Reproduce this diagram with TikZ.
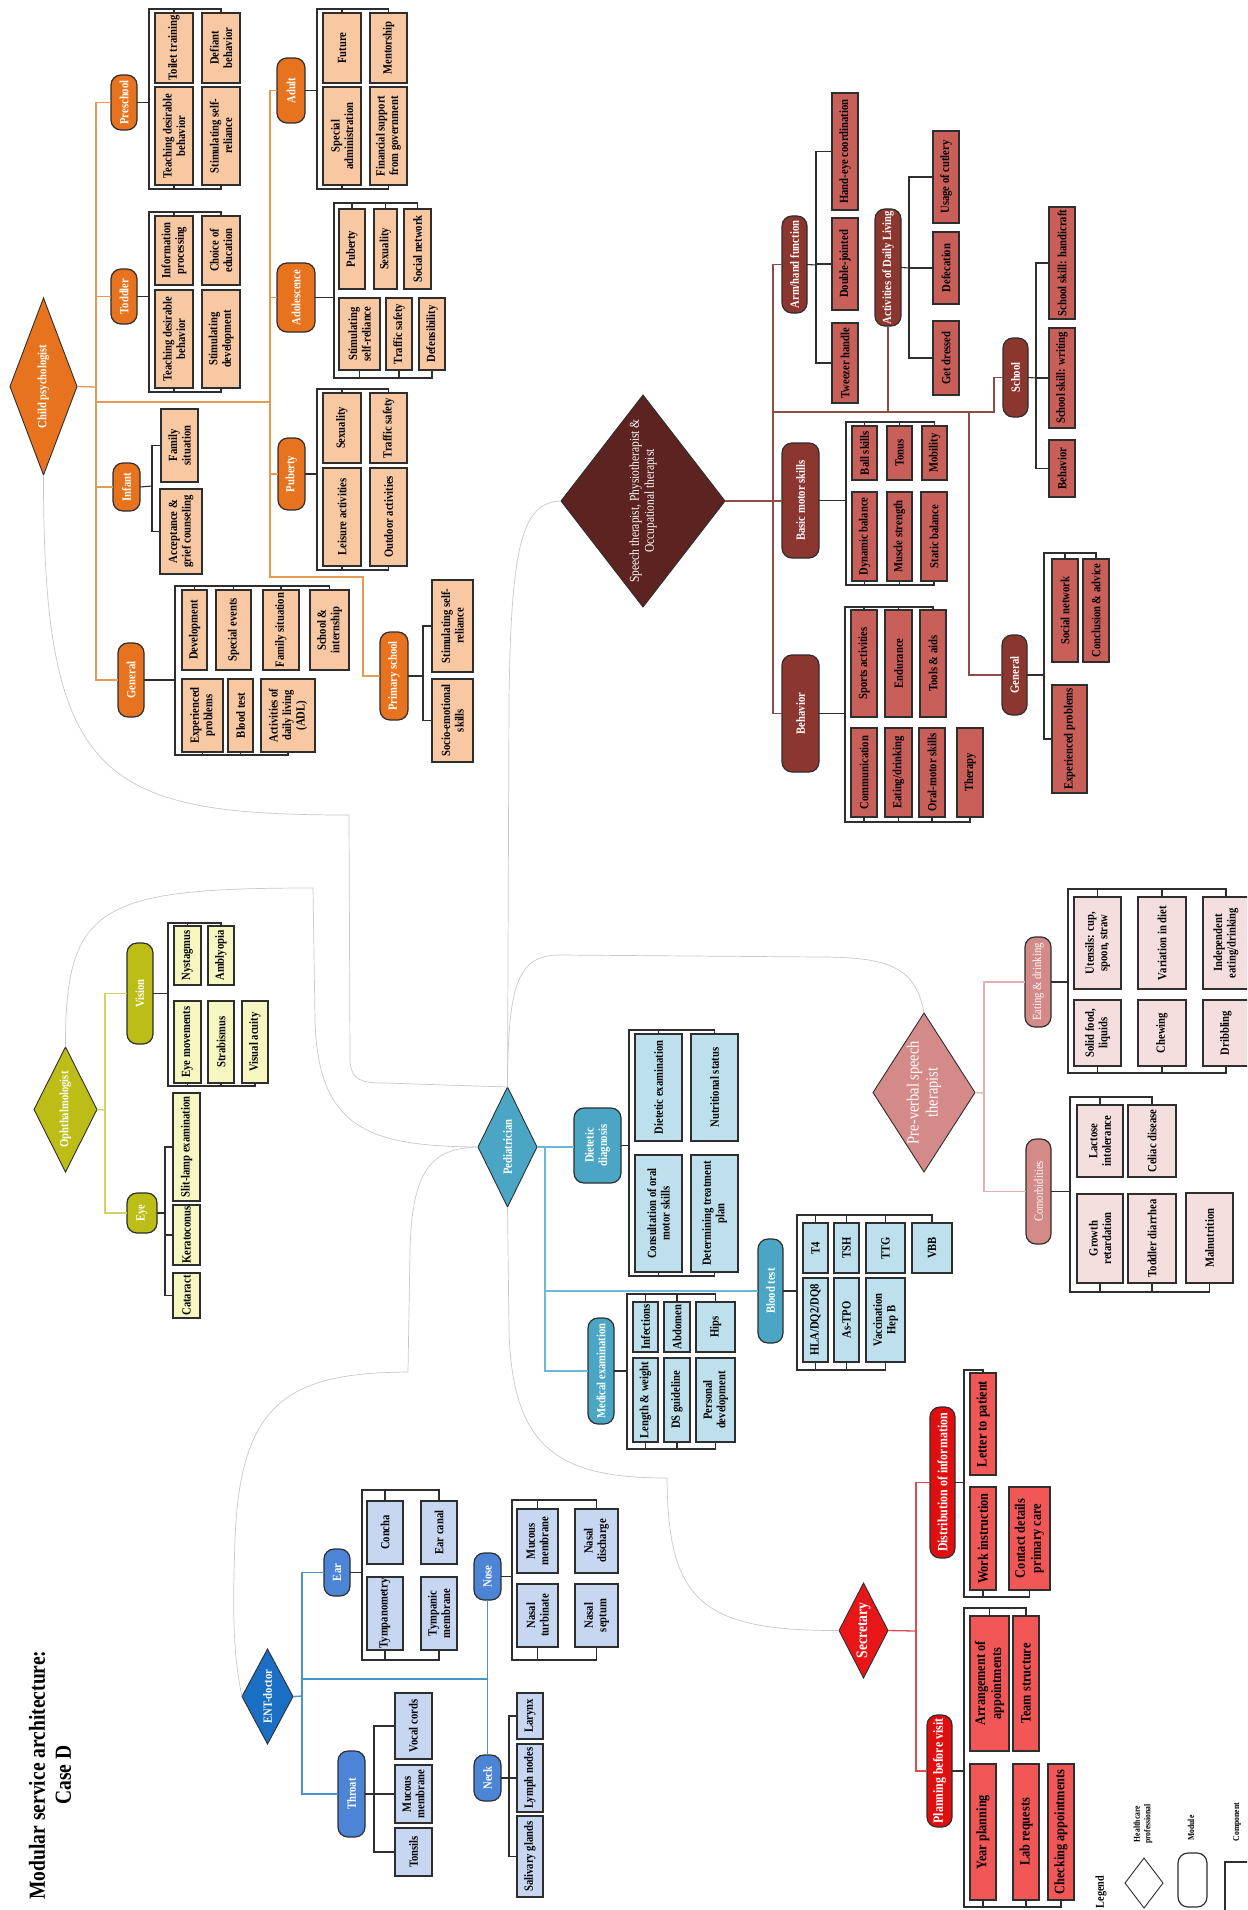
\documentclass[tikz,border=0pt]{standalone}
\usepackage{fontspec}
\setmainfont{Liberation Serif}[FakeStretch=0.85]
\usetikzlibrary{shapes.geometric}
\definecolor{edge}{HTML}{2E2E2E}
\definecolor{linkgray}{HTML}{C9C9C9}
\definecolor{cpMain}{HTML}{E8731E}
\definecolor{cpLight}{HTML}{F8C8A2}
\definecolor{cpLine}{HTML}{E39A55}
\definecolor{stDark}{HTML}{5C2320}
\definecolor{stMain}{HTML}{8C3630}
\definecolor{stLight}{HTML}{C95F59}
\definecolor{stLine}{HTML}{8E4B48}
\definecolor{ophMain}{HTML}{BDBD17}
\definecolor{ophLight}{HTML}{F6F6C0}
\definecolor{ophLine}{HTML}{D2D26A}
\definecolor{pedMain}{HTML}{4AA6C4}
\definecolor{pedLight}{HTML}{BDE0EC}
\definecolor{pedLine}{HTML}{6DB8D5}
\definecolor{pvMain}{HTML}{D48A88}
\definecolor{pvLight}{HTML}{F4DEDE}
\definecolor{pvLine}{HTML}{E6B0B0}
\definecolor{entDia}{HTML}{1A6EC4}
\definecolor{entMain}{HTML}{4C84D6}
\definecolor{entLight}{HTML}{C7D7F2}
\definecolor{entLine}{HTML}{4A93C9}
\definecolor{secDia}{HTML}{E81616}
\definecolor{secMain}{HTML}{E00E0E}
\definecolor{secLight}{HTML}{F25757}
\definecolor{secLine}{HTML}{D94F4F}

\begin{document}
\begin{tikzpicture}[
    x=1pt, y=-1pt,
    cell/.style n args={4}{at={({(#1+#3)/2},{(#2+#4)/2})},
        minimum width={(#4)-(#2)}, minimum height={(#3)-(#1)}},
    comp/.style={rectangle, draw=edge, line width=1.2pt, fill=#1, rotate=90,
        inner sep=1pt, outer sep=0pt, align=center,
        font=\bfseries\fontsize{12.5}{13.5}\selectfont},
    mod/.style={rectangle, rounded corners=10pt, draw=edge, line width=1.2pt, fill=#1,
        rotate=90, inner sep=1pt, outer sep=0pt, align=center, text=white,
        font=\bfseries\fontsize{12.5}{13.5}\selectfont},
    pro/.style={diamond, draw=edge, line width=0.9pt, fill=#1, rotate=90,
        inner sep=0pt, outer sep=0pt, align=center, text=white,
        font=\bfseries\fontsize{12.5}{14}\selectfont},
    brk/.style={draw=edge, line width=1.1pt},
    tie/.style={draw=#1, line width=1.3pt},
    link/.style={draw=linkgray, line width=0.7pt},
    note/.style={rotate=90, align=center, font=\bfseries\fontsize{9}{10.5}\selectfont},
]
\path[use as bounding box] (0,0) rectangle (1247,1910);
\clip (0,0) rectangle (1247,1910);
\fill[white] (0,0) rectangle (1247,1910);

\node[rotate=90, align=center, font=\bfseries\fontsize{23}{26}\selectfont] (title) at (50,1775)
    {Modular service architecture:\\Case D};

% ============================================================ child psychologist
\node[pro=cpMain, cell={10}{298}{77}{475}, aspect=2.6] (cp) {Child psychologist};
\foreach \nm/\xa/\ya/\xb/\yb/\txt in {cpPre/111/75/137/130/Preschool, cpTod/111/269/137/324/Toddler,
    cpInf/113/463/140/511/Infant, cpGen/118/643/144/717/General, cpAdu/277/58/305/123/Adult,
    cpAdo/277/263/315/332/Adolescence, cpPub/278/438/305/510/Puberty,
    cpPri/380/632/408/720/{Primary school}}
    \node[mod=cpMain, cell={\xa}{\ya}{\xb}{\yb}] (\nm) {\txt};
\foreach \nm/\xa/\ya/\xb/\yb/\txt in {
    ps1/155/87/193/185/{Teaching desirable\\behavior}, ps2/155/13/193/83/{Toilet training},
    ps3/202/87/240/185/{Stimulating self-\\reliance}, ps4/202/13/240/83/{Defiant\\behavior},
    td1/155/290/193/388/{Teaching desirable\\behavior}, td2/155/216/193/285/{Information\\processing},
    td3/202/290/240/388/{Stimulating\\development}, td4/202/216/240/285/{Choice of\\education},
    if1/161/409/198/482/{Family\\situation}, if2/160/489/202/574/{Acceptance \&\\grief counseling},
    gn1/182/590/207/670/{Development}, gn2/216/590/251/670/{Special events},
    gn3/263/590/299/670/{Family situation}, gn4/310/590/349/670/{School \&\\internship},
    gn5/182/679/223/752/{Experienced\\problems}, gn6/228/679/253/752/{Blood test},
    gn7/261/679/315/752/{Activities of\\daily living\\(ADL)},
    ad1/323/87/361/185/{Special\\administration}, ad2/323/13/361/83/{Future},
    ad3/370/87/407/185/{Financial support\\from government}, ad4/370/13/407/83/{Mentorship},
    ao1/339/209/365/289/{Puberty}, ao2/374/209/397/289/{Sexuality},
    ao3/404/209/431/289/{Social network}, ao4/339/298/380/370/{Stimulating\\self-reliance},
    ao5/386/298/412/370/{Traffic safety}, ao6/419/298/445/370/{Defensibility},
    pb1/323/393/361/463/{Sexuality}, pb2/370/393/407/463/{Traffic safety},
    pb3/323/468/361/566/{Leisure activities}, pb4/370/468/407/566/{Outdoor activities},
    pr1/432/580/473/672/{Stimulating self-\\reliance}, pr2/432/679/473/762/{Socio-emotional\\skills}}
    \node[comp=cpLight, cell={\xa}{\ya}{\xb}{\yb}] (\nm) {\txt};

\coordinate (cpS) at (96,387);
\coordinate (cpS2) at (270,402);
\coordinate (cpK) at (363,577);
\draw[tie=cpLine] (cp.south) -- (cpS);
\draw[tie=cpLine] (cpPre.north) -| (cpS) |- (cpGen.north);
\draw[tie=cpLine] (cpTod.north) -- (cpTod.north -| cpS);
\draw[tie=cpLine] (cpInf.north) -- (cpInf.north -| cpS);
\draw[tie=cpLine] (cpS |- cpS2) -- (cpS2);
\draw[tie=cpLine] (cpAdu.north) -| (cpS2) |- (cpK) |- (cpPri.north);
\draw[tie=cpLine] (cpAdo.north) -- (cpAdo.north -| cpS2);
\draw[tie=cpLine] (cpPub.north) -- (cpPub.north -| cpS2);

% preschool, toddler, adult, adolescence, puberty, general
\coordinate (psT) at (149,9);   \coordinate (psB) at (149,189);
\coordinate (tdT) at (149,212); \coordinate (tdB) at (149,392);
\coordinate (adT) at (317,9);   \coordinate (adB) at (317,189);
\coordinate (aoT) at (334,203); \coordinate (aoB) at (334,378);
\coordinate (pbT) at (317,389); \coordinate (pbB) at (317,570);
\coordinate (gnT) at (175,586); \coordinate (gnB) at (175,755);
\draw[brk] (cpPre.south) -- (cpPre.south -| psT);
\draw[brk] (ps4.east) |- (psT) -- (psB) -| (ps3.west);
\draw[brk] (ps2.east) -- (ps2.east |- psT);
\draw[brk] (ps1.west) -- (ps1.west |- psB);
\draw[brk] (cpTod.south) -- (cpTod.south -| tdT);
\draw[brk] (td4.east) |- (tdT) -- (tdB) -| (td3.west);
\draw[brk] (td2.east) -- (td2.east |- tdT);
\draw[brk] (td1.west) -- (td1.west |- tdB);
\draw[brk] (cpAdu.south) -- (cpAdu.south -| adT);
\draw[brk] (ad4.east) |- (adT) -- (adB) -| (ad3.west);
\draw[brk] (ad2.east) -- (ad2.east |- adT);
\draw[brk] (ad1.west) -- (ad1.west |- adB);
\draw[brk] (cpAdo.south) -- (cpAdo.south -| aoT);
\draw[brk] (ao3.east) |- (aoT) -- (aoB) -| (ao6.west);
\foreach \bx in {ao1,ao2} \draw[brk] (\bx.east) -- (\bx.east |- aoT);
\foreach \bx in {ao4,ao5} \draw[brk] (\bx.west) -- (\bx.west |- aoB);
\draw[brk] (cpPub.south) -- (cpPub.south -| pbT);
\draw[brk] (pb2.east) |- (pbT) -- (pbB) -| (pb4.west);
\draw[brk] (pb1.east) -- (pb1.east |- pbT);
\draw[brk] (pb3.west) -- (pb3.west |- pbB);
\draw[brk] (cpGen.south) -- (cpGen.south -| gnT);
\draw[brk] (gn4.east) |- (gnT) -- (gnB) -| (gn7.west);
\foreach \bx in {gn1,gn2,gn3} \draw[brk] (\bx.east) -- (\bx.east |- gnT);
\foreach \bx in {gn5,gn6} \draw[brk] (\bx.west) -- (\bx.west |- gnB);
% infant, primary school
\coordinate (ifS) at (152,486);
\coordinate (prS) at (423,676);
\draw[brk] (cpInf.south) -- (ifS);
\draw[brk] (if1.north) -| (ifS) |- (if2.north);
\draw[brk] (cpPri.south) -- (prS);
\draw[brk] (pr1.north) -| (prS) |- (pr2.north);

% ============================================================ therapists
\node[pro=stDark, cell={561}{395}{725}{607}, aspect=1.29,
    font=\mdseries\fontsize{13.5}{15}\selectfont] (st)
    {Speech therapist, Physiotherapist \&\\Occupational therapist};
\node[mod=stMain, cell={782}{216}{807}{313}] (stArm) {Arm/hand function};
\foreach \nm/\xa/\ya/\xb/\yb/\txt in {stBms/782/443/819/558/{Basic motor skills},
    stBeh/782/655/819/772/Behavior, stAdl/875/209/901/326/{Activities of Daily Living},
    stSch/1003/338/1028/417/School, stGen/1002/635/1027/715/General}
    \node[mod=stMain, cell={\xa}{\ya}{\xb}{\yb}] (\nm) {\txt};
\foreach \nm/\xa/\ya/\xb/\yb/\txt in {
    ah1/832/93/858/210/{Hand-eye coordination}, ah2/832/218/858/310/{Double-jointed},
    ah3/832/323/858/403/{Tweezer handle},
    dl1/933/131/959/223/{Usage of cutlery}, dl2/933/232/959/304/{Defecation},
    dl3/933/321/959/395/{Get dressed},
    sc1/1049/207/1075/319/{School skill: handicraft}, sc2/1049/328/1075/428/{School skill: writing},
    sc3/1049/440/1075/497/{Behavior},
    bm1/852/426/877/480/{Ball skills}, bm2/887/426/912/480/{Tonus}, bm3/922/426/947/480/{Mobility},
    bm4/852/492/877/581/{Dynamic balance}, bm5/887/492/912/581/{Muscle strength},
    bm6/921/492/947/581/{Static balance},
    bh1/851/610/877/717/{Sports activities}, bh2/885/610/912/717/{Endurance},
    bh3/920/610/946/717/{Tools \& aids}, bh4/851/728/877/817/{Communication},
    bh6/919/728/945/817/{Oral-motor skills}, bh7/957/728/983/817/{Therapy},
    sg1/1052/559/1078/662/{Social network}, sg2/1083/559/1109/662/{Conclusion \& advice},
    sg3/1052/685/1087/793/{Experienced problems}}
    \node[comp=stLight, cell={\xa}{\ya}{\xb}{\yb}] (\nm) {\txt};
\node[comp=stLight, cell={885}{728}{912}{817}] (bh5) {Eating/drinking};

\coordinate (stS) at (773,502);
\coordinate (stK) at (773,412);
\coordinate (stG) at (969,412);
\coordinate (stC) at (994,412);
\draw[tie=stLine] (st.south) -- (st.south -| stBms.north);
\draw[tie=stLine] (stArm.north) -| (stS) |- (stBeh.north);
\draw[tie=stLine] (stK) -- (stC) |- (stSch.north);
\draw[tie=stLine] (stAdl.west) -- (stAdl.west |- stK);
\draw[tie=stLine] (stG) |- (stGen.north);

\coordinate (ahS) at (816,265);
\coordinate (dlS) at (909,268);
\coordinate (scS) at (1036,378);
\draw[brk] (stArm.south) -- (ahS);
\draw[brk] (ah1.north) -| (ahS) |- (ah3.north);
\draw[brk] (ah2.north) -- (ah2.north -| ahS);
\draw[brk] (stAdl.south) -- (dlS);
\draw[brk] (dl1.north) -| (dlS) |- (dl3.north);
\draw[brk] (dl2.north) -- (dl2.north -| dlS);
\draw[brk] (stSch.south) -- (scS);
\draw[brk] (sc1.north) -| (scS) |- (sc3.north);
\draw[brk] (sc2.north) -- (sc2.north -| scS);
\coordinate (bmT) at (846,422); \coordinate (bmB) at (846,585);
\coordinate (bhT) at (845,607); \coordinate (bhB) at (845,822);
\coordinate (sgT) at (1044,553);
\draw[brk] (stBms.south) -- (stBms.south -| bmT);
\draw[brk] (bm3.east) |- (bmT) -- (bmB) -| (bm6.west);
\foreach \bx in {bm1,bm2} \draw[brk] (\bx.east) -- (\bx.east |- bmT);
\foreach \bx in {bm4,bm5} \draw[brk] (\bx.west) -- (\bx.west |- bmB);
\draw[brk] (stBeh.south) -- (stBeh.south -| bhT);
\draw[brk] (bh3.east) |- (bhT) -- (bhB) -| (bh7.west);
\foreach \bx in {bh1,bh2} \draw[brk] (\bx.east) -- (\bx.east |- bhT);
\foreach \bx in {bh4,bh5,bh6} \draw[brk] (\bx.west) -- (\bx.west |- bhB);
\draw[brk] (stGen.south) -- (stGen.south -| sgT);
\draw[brk] (sg2.east) |- (sgT) |- (sg3.north);
\draw[brk] (sg1.east) -- (sg1.east |- sgT);

% ============================================================ ophthalmologist
\node[pro=ophMain, cell={34}{1047}{97}{1172}, aspect=2] (oph) {Ophthalmologist};
\foreach \nm/\xa/\ya/\xb/\yb/\txt in {ophVis/127/943/153/1044/Vision, ophEye/127/1193/157/1233/Eye}
    \node[mod=ophMain, cell={\xa}{\ya}{\xb}{\yb}] (\nm) {\txt};
\foreach \nm/\xa/\ya/\xb/\yb/\txt in {
    vi1/174/926/201/985/Nystagmus, vi2/208/926/234/985/Amblyopia,
    vi3/174/1001/201/1083/{Eye movements}, vi4/208/1001/234/1083/Strabismus,
    vi5/242/1001/268/1083/{Visual acuity},
    ey1/173/1093/200/1201/{Slit-lamp examination}, ey2/173/1205/200/1265/Keratoconus,
    ey3/173/1273/200/1318/Cataract}
    \node[comp=ophLight, cell={\xa}{\ya}{\xb}{\yb}] (\nm) {\txt};

\coordinate (ophS) at (105,1110);
\draw[tie=ophLine] (oph.south) -- (ophS);
\draw[tie=ophLine] (ophVis.north) -| (ophS) |- (ophEye.north);
\coordinate (viT) at (168,923); \coordinate (viB) at (168,1086);
\coordinate (eyS) at (165,1213);
\draw[brk] (ophVis.south) -- (ophVis.south -| viT);
\draw[brk] (vi2.east) |- (viT) -- (viB) -| (vi5.west);
\draw[brk] (vi1.east) -- (vi1.east |- viT);
\foreach \bx in {vi3,vi4} \draw[brk] (\bx.west) -- (\bx.west |- viB);
\draw[brk] (ophEye.south) -- (eyS);
\draw[brk] (ey1.north) -| (eyS) |- (ey3.north);
\draw[brk] (ey2.north) -- (ey2.north -| eyS);

% ============================================================ pediatrician
\node[pro=pedMain, cell={478}{1087}{537}{1207}, aspect=2] (ped) {Pediatrician};
\foreach \nm/\xa/\ya/\xb/\yb/\txt in {pedDie/574/1108/621/1183/{Dietetic\\diagnosis},
    pedMed/588/1318/614/1424/{Medical examination}, pedBt/758/1239/783/1343/{Blood test}}
    \node[mod=pedMain, cell={\xa}{\ya}{\xb}{\yb}] (\nm) {\txt};
\foreach \nm/\xa/\ya/\xb/\yb/\txt in {
    dd1/635/1034/682/1141/{Dietetic examination}, dd2/691/1034/738/1141/{Nutritional status},
    dd3/635/1155/682/1272/{Consultation of oral\\motor skills},
    dd4/691/1155/738/1272/{Determining treatment\\plan},
    me1/633/1302/658/1352/Infections, me2/664/1302/690/1352/Abdomen, me3/696/1302/735/1352/Hips,
    me4/633/1358/658/1442/{Length \& weight}, me5/664/1358/690/1442/{DS guideline},
    me6/696/1358/735/1442/{Personal\\development},
    bt1/803/1223/828/1273/T4, bt2/834/1223/859/1273/TSH, bt3/866/1223/905/1273/TTG,
    bt4/912/1223/952/1273/VBB, bt6/834/1278/859/1362/As-TPO,
    bt7/866/1278/905/1362/{Vaccination\\Hep B}}
    \node[comp=pedLight, cell={\xa}{\ya}{\xb}{\yb}] (\nm) {\txt};
\node[comp=pedLight, cell={803}{1278}{828}{1362}] (bt5) {HLA/DQ2/DQ8};

\coordinate (pedS) at (545,1147);
\draw[tie=pedLine] (ped.south) -- (ped.south -| pedDie.north);
\draw[tie=pedLine] (pedS) |- (pedMed.north);
\draw[tie=pedLine] (pedBt.north) -- (pedBt.north -| pedS);
\coordinate (ddT) at (629,1030); \coordinate (ddB) at (629,1276);
\coordinate (meT) at (627,1294); \coordinate (meB) at (627,1449);
\coordinate (btT) at (797,1215); \coordinate (btB) at (797,1370);
\draw[brk] (pedDie.south) -- (pedDie.south -| ddT);
\draw[brk] (dd2.east) |- (ddT) -- (ddB) -| (dd4.west);
\draw[brk] (dd1.east) -- (dd1.east |- ddT);
\draw[brk] (dd3.west) -- (dd3.west |- ddB);
\draw[brk] (pedMed.south) -- (pedMed.south -| meT);
\draw[brk] (me3.east) |- (meT) -- (meB) -| (me6.west);
\foreach \bx in {me1,me2} \draw[brk] (\bx.east) -- (\bx.east |- meT);
\foreach \bx in {me4,me5} \draw[brk] (\bx.west) -- (\bx.west |- meB);
\draw[brk] (pedBt.south) -- (pedBt.south -| btT);
\draw[brk] (bt4.east) |- (btT) -- (btB) -| (bt7.west);
\foreach \bx in {bt1,bt2,bt3} \draw[brk] (\bx.east) -- (\bx.east |- btT);
\foreach \bx in {bt5,bt6} \draw[brk] (\bx.west) -- (\bx.west |- btB);

% ============================================================ pre-verbal speech therapist
\node[pro=pvMain, cell={873}{1013}{975}{1172}, aspect=1.56,
    font=\mdseries\fontsize{17}{19}\selectfont] (pv) {Pre-verbal speech\\therapist};
\foreach \nm/\xa/\ya/\xb/\yb/\txt in {pvEat/1025/937/1051/1027/{Eating \& drinking},
    pvCom/1026/1139/1051/1244/Comorbidities}
    \node[mod=pvMain, font=\mdseries\fontsize{12.5}{13.5}\selectfont, cell={\xa}{\ya}{\xb}{\yb}] (\nm) {\txt};
\foreach \nm/\xa/\ya/\xb/\yb/\txt in {
    ea1/1074/1000/1121/1066/{Solid food,\\liquids}, ea2/1138/1000/1186/1066/Chewing,
    ea3/1203/1000/1249/1066/Dribbling, ea4/1074/897/1121/989/{Utensils: cup,\\spoon, straw},
    ea5/1138/897/1186/989/{Variation in diet},
    co1/1077/1105/1123/1177/{Lactose\\intolerance}, co2/1128/1105/1176/1177/{Celiac disease},
    co3/1077/1194/1123/1283/{Growth\\retardation}, co4/1128/1194/1176/1283/{Toddler diarrhea},
    co5/1186/1193/1233/1283/Malnutrition}
    \node[comp=pvLight, cell={\xa}{\ya}{\xb}{\yb}] (\nm) {\txt};
\node[comp=pvLight, cell={1203}{897}{1249}{989}] (ea6) {Independent\\eating/drinking};

\coordinate (pvS) at (984,1093);
\draw[tie=pvLine] (pv.south) -- (pvS);
\draw[tie=pvLine] (pvEat.north) -| (pvS) |- (pvCom.north);
\coordinate (eaT) at (1068,889); \coordinate (eaB) at (1068,1073);
\coordinate (coT) at (1070,1097); \coordinate (coB) at (1070,1292);
\draw[brk] (pvEat.south) -- (pvEat.south -| eaT);
\draw[brk] (ea6.east) |- (eaT) -- (eaB) -| (ea3.west);
\foreach \bx in {ea4,ea5} \draw[brk] (\bx.east) -- (\bx.east |- eaT);
\foreach \bx in {ea1,ea2} \draw[brk] (\bx.west) -- (\bx.west |- eaB);
\draw[brk] (pvCom.south) -- (pvCom.south -| coT);
\draw[brk] (co2.east) |- (coT) -- (coB) -| (co5.west);
\draw[brk] (co1.east) -- (co1.east |- coT);
\foreach \bx in {co3,co4} \draw[brk] (\bx.west) -- (\bx.west |- coB);

% ============================================================ ENT-doctor
\node[pro=entDia, cell={242}{1649}{293}{1744}, aspect=1.86] (ent) {ENT-doctor};
\foreach \nm/\xa/\ya/\xb/\yb/\txt in {entEar/324/1549/350/1596/Ear, entThr/338/1751/365/1837/Throat,
    entNos/474/1553/501/1600/Nose, entNec/474/1755/501/1801/Neck}
    \node[mod=entMain, cell={\xa}{\ya}{\xb}{\yb}] (\nm) {\txt};
\foreach \nm/\xa/\ya/\xb/\yb/\txt in {
    er1/367/1501/403/1564/Concha, er2/367/1577/403/1650/Tympanometry,
    er3/421/1501/457/1564/{Ear canal}, er4/421/1577/457/1650/{Tympanic\\membrane},
    th1/395/1693/432/1759/{Vocal cords}, th2/395/1765/432/1823/{Mucous\\membrane},
    th3/395/1828/432/1876/Tonsils,
    nk1/517/1693/543/1739/Larynx, nk2/517/1744/543/1812/{Lymph nodes},
    nk3/517/1816/543/1897/{Salivary glands},
    ns1/517/1509/558/1573/{Mucous\\membrane}, ns2/517/1584/558/1647/{Nasal\\turbinate},
    ns3/575/1509/618/1573/{Nasal\\discharge}, ns4/575/1584/618/1647/{Nasal\\septum}}
    \node[comp=entLight, cell={\xa}{\ya}{\xb}{\yb}] (\nm) {\txt};

\coordinate (entS) at (302,1696);
\coordinate (entK) at (302,1679);
\draw[tie=entLine] (ent.south) -- (entS);
\draw[tie=entLine] (entEar.north) -| (entS) |- (entThr.north);
\draw[tie=entLine] (entK) -- (entK -| entNos.west);
\draw[tie=entLine] (entNos.west) -- (entNec.east);
\coordinate (erT) at (362,1490); \coordinate (erB) at (362,1660);
\coordinate (nsT) at (512,1500); \coordinate (nsB) at (512,1660);
\coordinate (thS) at (374,1794);
\coordinate (nkS) at (509,1778);
\draw[brk] (entEar.south) -- (entEar.south -| erT);
\draw[brk] (er3.east) |- (erT) -- (erB) -| (er4.west);
\draw[brk] (er1.east) -- (er1.east |- erT);
\draw[brk] (er2.west) -- (er2.west |- erB);
\draw[brk] (entThr.south) -- (thS);
\draw[brk] (th1.north) -| (thS) |- (th3.north);
\draw[brk] (th2.north) -- (th2.north -| thS);
\draw[brk] (entNec.south) -- (nkS);
\draw[brk] (nk1.north) -| (nkS) |- (nk3.north);
\draw[brk] (nk2.north) -- (nk2.north -| nkS);
\draw[brk] (entNos.south) -- (entNos.south -| nsT);
\draw[brk] (ns3.east) |- (nsT) -- (nsB) -| (ns4.west);
\draw[brk] (ns1.east) -- (ns1.east |- nsT);
\draw[brk] (ns2.west) -- (ns2.west |- nsB);

% ============================================================ secretary
\node[pro=secDia, cell={839}{1583}{888}{1678}, aspect=1.94,
    font=\bfseries\fontsize{16}{18}\selectfont] (sec) {Secretary};
\foreach \nm/\xa/\ya/\xb/\yb/\txt in {secDis/930/1407/955/1558/{Distribution of information},
    secPla/927/1715/952/1827/{Planning before visit}}
    \node[mod=secMain, font=\bfseries\fontsize{14}{15}\selectfont, cell={\xa}{\ya}{\xb}{\yb}] (\nm) {\txt};
\foreach \nm/\xa/\ya/\xb/\yb/\txt in {
    di1/970/1373/996/1475/{Letter to patient}, di2/970/1487/996/1590/{Work instruction},
    di3/1009/1487/1050/1590/{Contact details\\primary care},
    pl1/970/1616/1009/1751/{Arrangement of\\appointments}, pl2/1013/1616/1039/1751/{Team structure},
    pl3/970/1764/996/1900/{Year planning}, pl4/1013/1764/1039/1900/{Lab requests},
    pl5/1048/1764/1074/1900/{Checking appointments}}
    \node[comp=secLight, font=\bfseries\fontsize{14.5}{16}\selectfont, cell={\xa}{\ya}{\xb}{\yb}] (\nm) {\txt};

\coordinate (secS) at (916,1631);
\draw[tie=secLine] (sec.south) -- (secS);
\draw[tie=secLine] (secDis.north) -| (secS) |- (secPla.north);
\coordinate (diT) at (964,1370); \coordinate (diB) at (964,1597);
\coordinate (plT) at (964,1608); \coordinate (plB) at (964,1907);
\draw[brk] (secDis.south) -- (secDis.south -| diT);
\draw[brk] (di1.east) |- (diT) -- (diB) -| (di3.west);
\draw[brk] (di2.west) -- (di2.west |- diB);
\draw[brk] (secPla.south) -- (secPla.south -| plT);
\draw[brk] (pl2.east) |- (plT) -- (plB) -| (pl5.west);
\draw[brk] (pl1.east) -- (pl1.east |- plT);
\foreach \bx in {pl3,pl4} \draw[brk] (\bx.west) -- (\bx.west |- plB);

% ============================================================ links between professionals
\draw[link] (cp.west) .. controls (43,780) and (100,815) .. (349,815) -- (350,1060)
    .. controls (351,1081) and (362,1083) .. (385,1083) -- (ped.east);
\draw[link] (st.north) .. controls (522,502) and (511,545) .. (509,700) -- (ped.east);
\draw[link] (pv.east) .. controls (916,968) and (890,957) .. (820,957) -- (560,955)
    .. controls (517,955) and (508,985) .. (ped.east);
\draw[link] (oph.east) .. controls (65,905) and (100,888) .. (313,888) -- (315,1020)
    .. controls (318,1130) and (370,1146) .. (ped.north);
\draw[link] (ent.north) .. controls (232,1650) and (233,1600) .. (235,1540)
    .. controls (240,1400) and (290,1373) .. (408,1372) -- (410,1250)
    .. controls (412,1172) and (430,1148) .. (ped.north);
\draw[link] (ped.west) -- (509,1330) .. controls (512,1450) and (560,1478) .. (667,1478)
    .. controls (668,1600) and (700,1631) .. (sec.north);

% ============================================================ legend
\node[rotate=90, font=\bfseries\fontsize{12}{14}\selectfont] (lgHead) at (1101,1892) {Legend};
\node[pro=white, cell={1125}{1858}{1163}{1908}] (lgPro) {};
\node[note] (lgProTxt) at (1143,1824) {Healthcare\\professional};
\node[mod=white, cell={1178}{1853}{1207}{1907}] (lgMod) {};
\node[note] (lgModTxt) at (1191,1828) {Module};
\node[comp=white, cell={1225}{1862}{1262}{1915}] (lgComp) {};
\node[note] (lgCompTxt) at (1237,1822) {Component};

\end{tikzpicture}
\end{document}
